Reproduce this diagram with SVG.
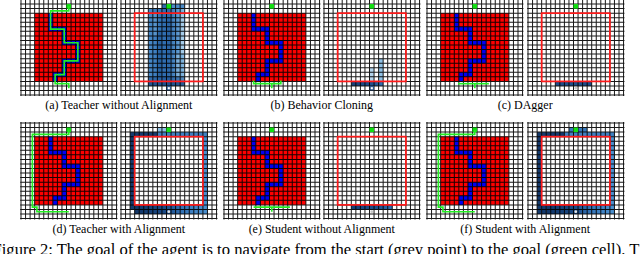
<svg xmlns="http://www.w3.org/2000/svg" width="640" height="254" viewBox="0 0 640 254">
<style>
.red{fill:#ff0000}
.bp{fill:#0000f0}
.goal{fill:#10e010}
.grid{fill:none;stroke:#000;stroke-width:.22;stroke-opacity:.9}
.gl{fill:none;stroke:#22ee22;stroke-width:.36;stroke-linejoin:miter}
.ro{fill:none;stroke:#ff1a1a;stroke-width:.38}
.start{fill:#fff;stroke:#1c4a85;stroke-width:.22}
.sdot{fill:#c8c8c8}
.nav{fill:#143a6e}
.med{fill:#3f80c2}
.bar{fill:#1d4d8a}
.cap{font-family:"Liberation Serif","Times New Roman",serif;font-size:12px;fill:#000;text-anchor:middle}
.fig{font-family:"Liberation Serif","Times New Roman",serif;font-size:16.6px;fill:#000}
</style>
<defs>
<path id="grid" d="M0 -.2V21.2M1 -.2V21.2M2 -.2V21.2M3 -.2V21.2M4 -.2V21.2M5 -.2V21.2M6 -.2V21.2M7 -.2V21.2M8 -.2V21.2M9 -.2V21.2M10 -.2V21.2M11 -.2V21.2M12 -.2V21.2M13 -.2V21.2M14 -.2V21.2M15 -.2V21.2M16 -.2V21.2M17 -.2V21.2M18 -.2V21.2M19 -.2V21.2M20 -.2V21.2M21 -.2V21.2M-.2 0H21.2M-.2 1H21.2M-.2 2H21.2M-.2 3H21.2M-.2 4H21.2M-.2 5H21.2M-.2 6H21.2M-.2 7H21.2M-.2 8H21.2M-.2 9H21.2M-.2 10H21.2M-.2 11H21.2M-.2 12H21.2M-.2 13H21.2M-.2 14H21.2M-.2 15H21.2M-.2 16H21.2M-.2 17H21.2M-.2 18H21.2M-.2 19H21.2M-.2 20H21.2M-.2 21H21.2"/>
<path id="bpath" d="M6 3h1v4h-1zM7 6h3v1h-3zM9 7h1v3h-1zM10 9h3v1h-3zM12 10h1v4h-1zM9 13h3v1h-3zM9 14h1v3h-1zM7 16h2v1h-2zM7 17h1v1h-1z"/>
<rect id="redsq" x="3" y="3" width="15" height="15"/>
<rect id="goalc" x="10" y="1" width="1" height="1"/>
<linearGradient id="hA" x1="0" y1="0" x2="1" y2="0">
<stop offset="0" stop-color="#4a8bc9"/>
<stop offset=".35" stop-color="#3474b8"/>
<stop offset=".55" stop-color="#2c68aa"/>
<stop offset=".8" stop-color="#5896cf"/>
<stop offset="1" stop-color="#8ebfe3"/>
</linearGradient>
<linearGradient id="hBar" x1="0" y1="0" x2="1" y2="0">
<stop offset="0" stop-color="#163f77"/>
<stop offset=".7" stop-color="#1f5191"/>
<stop offset="1" stop-color="#3473b6"/>
</linearGradient>
<linearGradient id="hBot" x1="0" y1="0" x2="1" y2="0">
<stop offset="0" stop-color="#123668"/>
<stop offset=".45" stop-color="#1a4a87"/>
<stop offset=".7" stop-color="#3474b8"/>
<stop offset="1" stop-color="#4a8fcf"/>
</linearGradient>
</defs>
<rect x="0" y="0" width="640" height="254" fill="#fff"/>

<!-- (a) teacher without alignment -->
<g id="panel-a-teacher" transform="translate(21,-0.5) scale(4.55)">
<use href="#redsq" class="red"/>
<use href="#bpath" class="bp"/>
<use href="#grid" class="grid"/>
<use href="#goalc" class="goal"/>
<polyline class="gl" points="10.5,1.5 10.5,2.5 6.5,2.5 6.5,6.5 9.5,6.5 9.5,9.5 12.5,9.5 12.5,13.5 9.5,13.5 9.5,16.5 7.5,16.5 7.5,18.5 10.5,18.5 10.5,19.5"/>
</g>
<g id="panel-a-student" transform="translate(121,-0.5) scale(4.55)">
<rect x="6" y="2" width="8" height="17" fill="url(#hA)"/>
<rect x="9" y="1" width="1" height="1" fill="#2f6aab"/>
<rect x="11" y="1" width="3" height="1" fill="#4c8bc7"/>
<rect x="8" y="7" width="1" height="10" fill="#1f5898" opacity=".6"/>
<rect x="10" y="4" width="1" height="8" fill="#22599a" opacity=".4"/>
<rect x="13" y="3" width="1" height="9" fill="#b5d6ee" opacity=".7"/>
<rect x="12" y="12" width="1" height="5" fill="#9cc8e8" opacity=".5"/>
<rect x="7" y="3" width="1" height="5" fill="#6fa8d8" opacity=".5"/>
<rect x="6" y="17" width="8" height="1" fill="#1b4c8c" opacity=".45"/>
<rect x="6" y="18" width="8" height="1" fill="#1b4a88" opacity=".85"/>
<use href="#grid" class="grid"/>
<use href="#redsq" class="ro"/>
<use href="#goalc" class="goal"/>
<rect class="start" x="10.15" y="19.15" width=".7" height=".7"/>
</g>

<!-- (b) behavior cloning -->
<g id="panel-b-teacher" transform="translate(224,-0.5) scale(4.55)">
<use href="#redsq" class="red"/>
<use href="#bpath" class="bp"/>
<use href="#grid" class="grid"/>
<use href="#goalc" class="goal"/>
<polyline class="gl" points="6.5,17.8 6.5,18.5 12.5,18.5 12.5,17.8"/>
<polyline class="gl" points="10.5,18.5 10.5,19.5"/>
</g>
<g id="panel-b-student" transform="translate(324,-0.5) scale(4.55)">
<rect x="10" y="15" width="1" height="3" fill="#b3d4ec"/>
<rect x="12" y="13" width="1" height="5" fill="#92c2e5"/>
<rect x="6" y="18" width="7" height="1" fill="url(#hBar)"/>
<use href="#grid" class="grid"/>
<use href="#redsq" class="ro"/>
<use href="#goalc" class="goal"/>
<rect class="start" x="10.15" y="19.15" width=".7" height=".7"/>
</g>

<!-- (c) DAgger -->
<g id="panel-c-teacher" transform="translate(427,-0.5) scale(4.55)">
<use href="#redsq" class="red"/>
<use href="#bpath" class="bp"/>
<use href="#grid" class="grid"/>
<use href="#goalc" class="goal"/>
<polyline class="gl" points="6.8,18.5 13.6,18.5"/>
<polyline class="gl" points="10.5,18.5 10.5,19.5"/>
</g>
<g id="panel-c-student" transform="translate(528,-0.5) scale(4.55)">
<rect class="bar" x="6" y="18" width="8" height="1"/>
<use href="#grid" class="grid"/>
<use href="#redsq" class="ro"/>
<use href="#goalc" class="goal"/>
<circle class="sdot" cx="10.5" cy="19.5" r=".3"/>
</g>

<!-- (d) teacher with alignment -->
<g id="panel-d-teacher" transform="translate(21,123) scale(4.55)">
<use href="#redsq" class="red"/>
<use href="#bpath" class="bp"/>
<use href="#grid" class="grid"/>
<use href="#goalc" class="goal"/>
<polyline class="gl" points="10.5,1.5 10.5,2.5 2.5,2.5 2.5,18.5 3.5,18.5 3.5,19.5 10.5,19.5"/>
</g>
<g id="panel-d-student" transform="translate(121,123) scale(4.55)">
<rect class="nav" x="2" y="2" width="1" height="17"/>
<rect class="nav" x="3" y="2" width="5" height="1"/>
<rect class="med" x="8" y="2" width="11" height="1"/>
<rect x="8" y="1" width="2" height="1" fill="#8fc1e6"/>
<rect x="18" y="3" width="1" height="17" fill="#4a8fcf"/>
<rect x="3" y="18" width="15" height="2" fill="url(#hBot)"/>
<use href="#grid" class="grid"/>
<use href="#redsq" class="ro"/>
<use href="#goalc" class="goal"/>
<circle cx="10.5" cy="19.5" r=".3" fill="#e4e4e4"/>
</g>

<!-- (e) student without alignment -->
<g id="panel-e-teacher" transform="translate(224,123) scale(4.55)">
<use href="#redsq" class="red"/>
<use href="#bpath" class="bp"/>
<use href="#grid" class="grid"/>
<use href="#goalc" class="goal"/>
<polyline class="gl" points="6.5,18.5 14.5,18.5"/>
<polyline class="gl" points="10.5,18.5 10.5,19.5"/>
</g>
<g id="panel-e-student" transform="translate(324,123) scale(4.55)">
<rect x="6" y="18" width="9" height="1" fill="url(#hBar)"/>
<use href="#grid" class="grid"/>
<use href="#redsq" class="ro"/>
<use href="#goalc" class="goal"/>
<circle class="sdot" cx="10.5" cy="19.5" r=".3"/>
</g>

<!-- (f) student with alignment -->
<g id="panel-f-teacher" transform="translate(427,123) scale(4.55)">
<use href="#redsq" class="red"/>
<use href="#bpath" class="bp"/>
<use href="#grid" class="grid"/>
<use href="#goalc" class="goal"/>
<polyline class="gl" points="10.5,1.5 10.5,2.5 2.5,2.5 2.5,18.5 3.5,18.5 3.5,19.5 10.5,19.5"/>
</g>
<g id="panel-f-student" transform="translate(528,123) scale(4.55)">
<rect class="nav" x="2" y="2" width="1" height="18"/>
<rect class="nav" x="3" y="18" width="1" height="2"/>
<rect class="nav" x="3" y="2" width="5" height="1"/>
<rect class="med" x="8" y="2" width="11" height="1"/>
<rect x="9" y="1" width="1" height="1" fill="#3a7bbd"/>
<rect x="11" y="1" width="2" height="1" fill="#3a7bbd"/>
<rect x="18" y="3" width="1" height="17" fill="#4b90cf"/>
<rect x="4" y="18" width="14" height="2" fill="url(#hBot)"/>
<use href="#grid" class="grid"/>
<use href="#redsq" class="ro"/>
<use href="#goalc" class="goal"/>
<circle cx="10.5" cy="19.5" r=".3" fill="#e4e4e4"/>
</g>

<g id="captions">
<text class="cap" x="118.8" y="108.5">(a) Teacher without Alignment</text>
<text class="cap" x="321.8" y="108.5">(b) Behavior Cloning</text>
<text class="cap" x="525.2" y="108.5">(c) DAgger</text>
<text class="cap" x="118.8" y="232.5">(d) Teacher with Alignment</text>
<text class="cap" x="321.8" y="232.5">(e) Student without Alignment</text>
<text class="cap" x="525.2" y="232.5">(f) Student with Alignment</text>
<text class="fig" x="-7.5" y="255">Figure 2: The goal of the agent is to navigate from the start (grey point) to the goal (green cell). T</text>
</g>
</svg>
